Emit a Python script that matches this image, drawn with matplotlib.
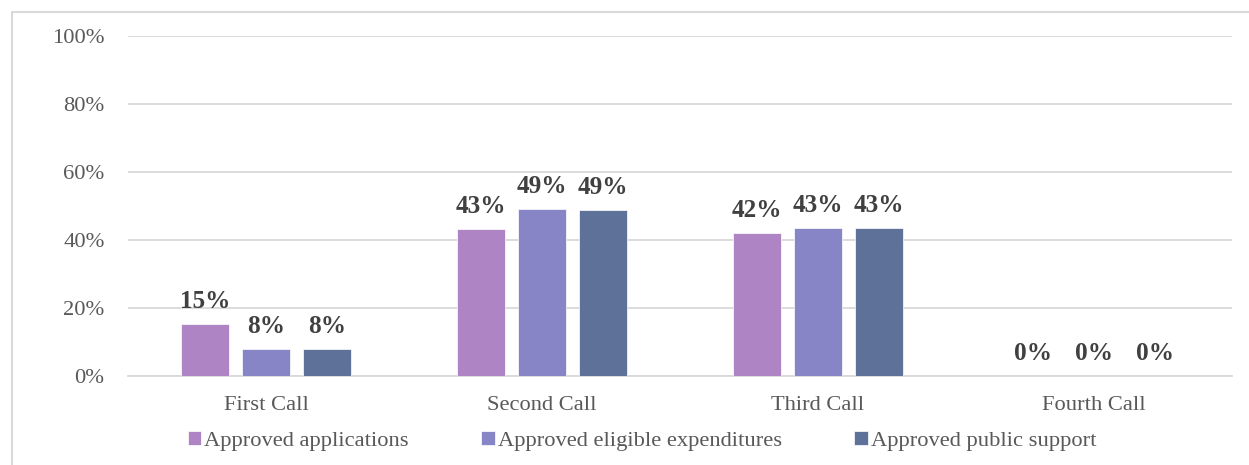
import matplotlib
matplotlib.use("Agg")
import matplotlib.pyplot as plt
import numpy as np
from matplotlib.patches import Rectangle

categories = ["First Call", "Second Call", "Third Call", "Fourth Call"]
series_names = ["Approved applications", "Approved eligible expenditures", "Approved public support"]
approved_applications = [15.3, 43.2, 42.1, 0.0]
approved_expenditures = [7.9, 49.1, 43.5, 0.0]
approved_support = [8.0, 48.8, 43.5, 0.0]
label_texts = [
    ["15%", "43%", "42%", "0%"],
    ["8%", "49%", "43%", "0%"],
    ["8%", "49%", "43%", "0%"],
]
colors = ["#AE84C4", "#8885C6", "#5E7299"]
yticks = [0, 20, 40, 60, 80, 100]

plt.rcParams['font.family'] = ['Liberation Serif', 'DejaVu Serif']

fig = plt.figure(figsize=(12.49, 4.65), dpi=100)
ax = fig.add_axes([128/1249, 1-376/465, (1232-128)/1249, (376-36)/465])

# outer border (left & top visible)
fig.patches.append(Rectangle((12/1249, -0.1), 1.2, 1 - 12/465 + 0.1, transform=fig.transFigure,
                             fill=False, edgecolor="#D9D9D9", linewidth=1.5, zorder=0))

x = np.arange(len(categories))
width = 0.174
step = 0.222
all_series = [approved_applications, approved_expenditures, approved_support]
for i, (vals, name, c) in enumerate(zip(all_series, series_names, colors)):
    pos = x + (i - 1) * step
    bars = ax.bar(pos, vals, width=width, color=c, label=name, zorder=3,
                  edgecolor="#FFFFFF", linewidth=0.5)
    for b, v, t in zip(bars, vals, label_texts[i]):
        ax.annotate(t, (b.get_x() + b.get_width()/2, v), xytext=(0, 8),
                    textcoords="offset points", ha="center", va="bottom",
                    fontsize=18.2, fontweight="bold", color="#404040")

ax.set_xlim(-0.5, 3.5)
ax.set_ylim(0, 100)
ax.set_yticks(yticks)
ax.set_yticklabels([f"{t}%" for t in yticks])
ax.set_xticks(x)
ax.set_xticklabels(categories)
ax.tick_params(axis="both", length=0, labelsize=16.2, labelcolor="#595959")
ax.tick_params(axis="y", pad=17)
ax.tick_params(axis="x", pad=14.5)
ax.yaxis.grid(True, color="#D9D9D9", linewidth=1.3, zorder=0)
ax.set_axisbelow(True)
for s in ["top", "right", "left"]:
    ax.spines[s].set_visible(False)
ax.spines["bottom"].set_color("#D9D9D9")
ax.spines["bottom"].set_linewidth(1.3)

leg = fig.legend(loc="center", bbox_to_anchor=(0.514, 1-441/465), ncol=3, frameon=False,
                 fontsize=16.2, handlelength=0.6, handleheight=0.6, handletextpad=0.15,
                 columnspacing=3.2, labelcolor="#595959")

fig.savefig("out.png", dpi=100)
